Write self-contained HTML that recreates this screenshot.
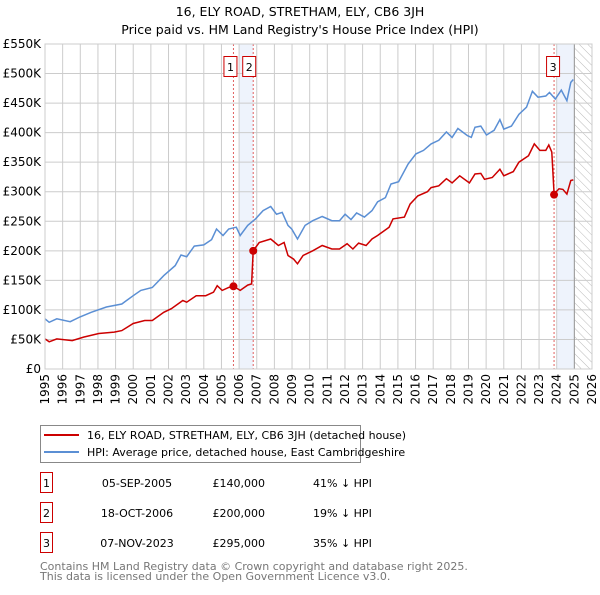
<!DOCTYPE html>
<html><head><meta charset="utf-8"><style>
body{margin:0;background:#fff;font-family:"Liberation Sans","DejaVu Sans",sans-serif;}
svg text{font-family:"DejaVu Sans","Liberation Sans",sans-serif;}
</style></head><body>
<svg id="chart" width="600" height="590" xmlns="http://www.w3.org/2000/svg">
<defs><pattern id="hatch" width="6" height="6" patternUnits="userSpaceOnUse" patternTransform="rotate(-45)"><line x1="0" y1="0" x2="0" y2="6" stroke="#bbb" stroke-width="1"/></pattern></defs>
<text x="300" y="16" text-anchor="middle" font-size="12.5" fill="#000">16, ELY ROAD, STRETHAM, ELY, CB6 3JH</text>
<text x="300" y="34" text-anchor="middle" font-size="12.5" fill="#000">Price paid vs. HM Land Registry's House Price Index (HPI)</text>
<g id="plot"></g>
<g>
<rect x="40.5" y="425.5" width="320" height="37" fill="#fff" stroke="#888"/>
<line x1="44" y1="435" x2="79" y2="435" stroke="#cc0000" stroke-width="2"/>
<text x="87" y="439" font-size="11">16, ELY ROAD, STRETHAM, ELY, CB6 3JH (detached house)</text>
<line x1="44" y1="452" x2="79" y2="452" stroke="#5b8fd4" stroke-width="2"/>
<text x="87" y="456" font-size="11">HPI: Average price, detached house, East Cambridgeshire</text>
</g>
<g id="table" font-size="11"></g>
<text x="40" y="570" font-size="11" fill="#777">Contains HM Land Registry data © Crown copyright and database right 2025.</text>
<text x="40" y="580" font-size="11" fill="#777">This data is licensed under the Open Government Licence v3.0.</text>
</svg>
<script>
const hpiT=[0,.24,.67,1.43,1.97,2.62,3.48,4.35,5.0,5.43,6.08,6.73,7.38,7.71,8.03,8.46,9.0,9.44,9.72,10.09,10.41,10.84,11.06,11.49,11.93,12.36,12.79,13.12,13.44,13.77,13.98,14.31,14.74,15.17,15.71,16.26,16.69,17.01,17.34,17.66,18.1,18.53,18.85,19.29,19.61,20.04,20.58,21.02,21.45,21.88,22.32,22.75,23.07,23.4,23.94,24.16,24.37,24.7,25.02,25.45,25.78,26.0,26.43,26.86,27.29,27.62,27.94,28.38,28.59,28.92,29.26,29.58,29.8,29.94];
const hpiV=[85,79,85,80,88,96,105,110,124,133,138,158,175,193,190,208,210,219,237,226,237,240,226,243,254,268,275,262,265,243,237,220,243,251,258,251,251,262,253,264,257,268,283,290,313,317,347,364,370,381,387,401,392,407,395,392,409,411,396,404,422,406,411,431,443,470,460,462,468,457,472,454,485,490];
const ppT=[0,.24,.67,1.54,2.19,3.05,3.92,4.35,5.0,5.65,6.08,6.73,7.16,7.81,8.03,8.57,9.11,9.55,9.76,10.04,10.41,10.69,11.06,11.49,11.71,11.8,12.14,12.79,13.23,13.55,13.77,14.09,14.31,14.63,15.17,15.71,16.26,16.69,17.12,17.45,17.77,18.2,18.53,18.85,19.5,19.72,20.37,20.69,21.13,21.67,21.88,22.32,22.75,23.07,23.5,24.05,24.37,24.7,24.91,25.35,25.78,26.0,26.54,26.86,27.4,27.73,28.05,28.38,28.55,28.72,28.85,29.13,29.35,29.58,29.8,29.94];
const ppV=[51,46,51,48,54,60,62.5,65,77,82,82,96,102,116,113,124,124,130,141,133,138,140,133,142,144,200,214,220,209,214,192,186,178,192,200,209,203,203,212,203,213,209,220,226,240,254,257,279,293,300,307,310,322,315,327,315,330,331,321,324,338,327,334,350,361,381,370,370,379,367,296,305,304,296,319,320];
const baseYear=1995;
const saleLabels=["1","2","3"];
const saleYears=[2005.68,2006.8,2023.85];
const salePrices=[140,200,295];
const saleDates=["05-SEP-2005","18-OCT-2006","07-NOV-2023"];
const salePriceText=["£140,000","£200,000","£295,000"];
const saleHpiText=["41% ↓ HPI","19% ↓ HPI","35% ↓ HPI"];
const yTicks=[0,50,100,150,200,250,300,350,400,450,500,550];
const yTickLabels=["£0","£50K","£100K","£150K","£200K","£250K","£300K","£350K","£400K","£450K","£500K","£550K"];
const xYears=[1995,1996,1997,1998,1999,2000,2001,2002,2003,2004,2005,2006,2007,2008,2009,2010,2011,2012,2013,2014,2015,2016,2017,2018,2019,2020,2021,2022,2023,2024,2025,2026];
const NS="http://www.w3.org/2000/svg";
const L=45,R=592,T=44,B=369;
const X=y=>L+(y-1995)*(R-L)/31;
const Y=v=>B-v*(B-T)/550;
const plot=document.getElementById('plot');
function mk(tag,attrs,parent){const e=document.createElementNS(NS,tag);for(const k in attrs)e.setAttribute(k,attrs[k]);(parent||plot).appendChild(e);return e;}
let e;
e=mk('rect',{x:L,y:T,width:R-L,height:B-T,fill:'#fff'});


// shaded regions
e=mk('rect',{x:X(2006),y:T,width:X(2006.8)-X(2006),height:B-T,fill:'#eef3fc'});


e=mk('rect',{x:X(2024),y:T,width:X(2025)-X(2024),height:B-T,fill:'#eef3fc'});


e=mk('rect',{x:X(2025),y:T,width:X(2026)-X(2025),height:B-T,fill:'url(#hatch)'});


// grid
yTicks.forEach((v,i)=>{
 e=mk('line',{x1:L,x2:R,y1:Y(v),y2:Y(v),stroke:'#ccc','stroke-width':1});
 
 
 e=mk('text',{x:L-4,y:Y(v)+4,'text-anchor':'end','font-size':12,fill:'#000'});
 e.textContent=yTickLabels[i];
 
 
});
xYears.forEach(yr=>{
 e=mk('line',{x1:X(yr),x2:X(yr),y1:T,y2:B,stroke:'#ccc','stroke-width':1});
 
 
 e=mk('text',{x:0,y:0,'text-anchor':'end','font-size':12,fill:'#000',transform:`translate(${X(yr)+4},${B+5}) rotate(-90)`});
 e.textContent=yr;
 
 
});
e=mk('line',{x1:X(2025),x2:X(2025),y1:T,y2:B,stroke:'#999','stroke-width':1});


// sale lines
saleYears.forEach((yr,i)=>{
 e=mk('line',{x1:X(yr),x2:X(yr),y1:T,y2:B,stroke:'#e06060','stroke-width':1,'stroke-dasharray':'2,2'});
 
 
});
// series
function path(ts,vs){return ts.map((t,i)=>(i?'L':'M')+X(baseYear+t).toFixed(1)+','+Y(vs[i]).toFixed(1)).join('');}
e=mk('path',{d:path(hpiT,hpiV),fill:'none',stroke:'#5b8fd4','stroke-width':1.5});


e=mk('path',{d:path(ppT,ppV),fill:'none',stroke:'#cc0000','stroke-width':1.5});


// markers & boxes
const boxShift=[-3,-4,-1];
saleYears.forEach((yr,i)=>{
 e=mk('circle',{cx:X(yr),cy:Y(salePrices[i]),r:4,fill:'#cc0000'});
 
 
 const cx=X(yr)+boxShift[i];
 e=mk('rect',{x:cx-6.5,y:56.5,width:13,height:20,fill:'#fff',stroke:'#cc0000'});
 
 
 e=mk('text',{x:cx,y:71,'text-anchor':'middle','font-size':11});
 e.textContent=saleLabels[i];
 
 
});
e=mk('rect',{x:L,y:T,width:R-L,height:B-T,fill:'none',stroke:'#ccc'});


// table
const tbl=document.getElementById('table');
const rowY=[483,513,543];
saleLabels.forEach((lab,i)=>{
 const y=rowY[i];
 e=mk('rect',{x:40.5,y:y-10.5,width:12,height:20,fill:'#fff',stroke:'#cc0000'},tbl);
 
 
 e=mk('text',{x:46.5,y:y+4,'text-anchor':'middle'},tbl);e.textContent=lab;
 
 
 e=mk('text',{x:137,y:y+4,'text-anchor':'middle'},tbl);e.textContent=saleDates[i];
 
 
 e=mk('text',{x:265,y:y+4,'text-anchor':'end'},tbl);e.textContent=salePriceText[i];
 
 
 e=mk('text',{x:313,y:y+4},tbl);e.textContent=saleHpiText[i];
 
 
});
</script>
</body></html>
